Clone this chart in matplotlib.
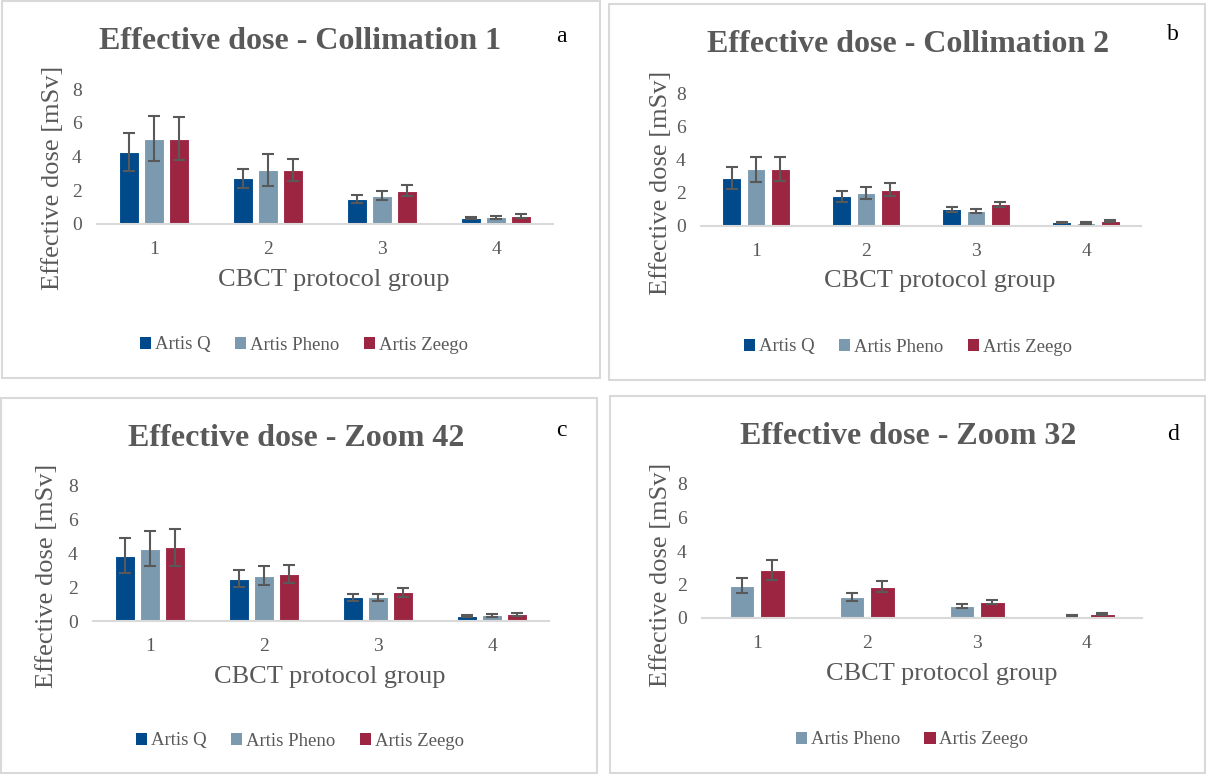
import matplotlib.pyplot as plt
import numpy as np
from matplotlib.patches import Patch, Rectangle

W, H = 1206, 774

groups = ["1", "2", "3", "4"]
series_names = ["Artis Q", "Artis Pheno", "Artis Zeego"]
series_colors = {"Artis Q": "#00498B", "Artis Pheno": "#7B9AAF", "Artis Zeego": "#9C2642"}

# Collimation 1
col1_q = [4.27, 2.71, 1.48, 0.36]
col1_q_err = [1.15, 0.56, 0.24, 0.07]
col1_pheno = [5.06, 3.20, 1.68, 0.40]
col1_pheno_err = [1.33, 0.96, 0.26, 0.08]
col1_zeego = [5.06, 3.20, 1.98, 0.47]
col1_zeego_err = [1.28, 0.63, 0.33, 0.10]

# Collimation 2
col2_q = [2.89, 1.80, 1.00, 0.22]
col2_q_err = [0.65, 0.33, 0.15, 0.05]
col2_pheno = [3.41, 1.98, 0.92, 0.18]
col2_pheno_err = [0.76, 0.35, 0.12, 0.04]
col2_zeego = [3.41, 2.18, 1.30, 0.30]
col2_zeego_err = [0.72, 0.39, 0.16, 0.05]

# Zoom 42
z42_q = [3.88, 2.51, 1.41, 0.30]
z42_q_err = [1.01, 0.50, 0.20, 0.08]
z42_pheno = [4.28, 2.69, 1.41, 0.34]
z42_pheno_err = [1.05, 0.54, 0.20, 0.08]
z42_zeego = [4.36, 2.81, 1.70, 0.40]
z42_zeego_err = [1.08, 0.53, 0.26, 0.10]

# Zoom 32 (no Artis Q)
z32_pheno = [1.94, 1.27, 0.73, 0.14]
z32_pheno_err = [0.44, 0.24, 0.12, 0.04]
z32_zeego = [2.88, 1.87, 0.95, 0.24]
z32_zeego_err = [0.60, 0.32, 0.14, 0.05]

GRAY = "#595959"
SERIF = ["Liberation Serif", "DejaVu Serif"]
plt.rcParams["font.family"] = SERIF

fig = plt.figure(figsize=(W / 100, H / 100), dpi=100)


def fx(x):
    return x / W


def fy(y):
    return 1 - y / H


def add_box(x0, y0, x1, y1):
    fig.patches.append(Rectangle((fx(x0), fy(y1)), fx(x1 - x0), (y1 - y0) / H,
                                 transform=fig.transFigure, fill=False,
                                 edgecolor="#D9D9D9", linewidth=1.5))


def draw_panel(rect, title, letter, series, bar_w, step, title_xy, letter_xy,
               ylabel_xy, xlabel_xy, legend_xy):
    left, top, right, bottom = rect
    ax = fig.add_axes([fx(left), fy(bottom), fx(right - left), (bottom - top) / H])
    x = np.arange(len(groups))
    n = len(series)
    for i, (name, vals, errs) in enumerate(series):
        off = (i - (n - 1) / 2) * step
        ax.bar(x + off, vals, width=bar_w, color=series_colors[name],
               edgecolor="white", linewidth=0.8, zorder=2)
        ax.errorbar(x + off, vals, yerr=errs, fmt="none", ecolor=GRAY,
                    elinewidth=1.5, capsize=4.5, capthick=1.5, zorder=3)
    ax.set_xlim(-0.5, len(groups) - 0.5)
    ax.set_ylim(0, 8)
    ax.set_yticks([0, 2, 4, 6, 8])
    ax.set_xticks(x)
    ax.set_xticklabels(groups)
    for side in ["top", "right", "left"]:
        ax.spines[side].set_visible(False)
    ax.spines["bottom"].set_color("#D9D9D9")
    ax.spines["bottom"].set_linewidth(1.5)
    ax.tick_params(axis="both", length=0, labelsize=14, labelcolor=GRAY)
    ax.tick_params(axis="x", pad=12)
    ax.tick_params(axis="y", pad=11)
    ax.set_facecolor("none")

    fig.text(fx(title_xy[0]), fy(title_xy[1]), title, ha="center", va="baseline",
             fontsize=23, fontweight="bold", color=GRAY)
    fig.text(fx(letter_xy[0]), fy(letter_xy[1]), letter, ha="center", va="baseline",
             fontsize=17, color="black")
    fig.text(fx(ylabel_xy[0]), fy(ylabel_xy[1]), "Effective dose [mSv]", ha="center",
             va="center", rotation=90, fontsize=19, color=GRAY)
    fig.text(fx(xlabel_xy[0]), fy(xlabel_xy[1]), "CBCT protocol group", ha="center",
             va="center", fontsize=19, color=GRAY)

    handles = [Patch(facecolor=series_colors[name], edgecolor="none", label=name)
               for name, _, _ in series]
    fig.legend(handles=handles, loc="center", ncol=len(handles),
               bbox_to_anchor=(fx(legend_xy[0]), fy(legend_xy[1])),
               frameon=False, fontsize=13.5, labelcolor=GRAY,
               handlelength=0.6, handleheight=0.6, handletextpad=0.2,
               columnspacing=1.3)
    return ax


add_box(2, 1, 600, 378)
add_box(609, 4, 1205, 380)
add_box(1, 398, 597, 773)
add_box(610, 396, 1205, 773)

draw_panel((97, 89, 553, 224), "Effective dose - Collimation 1", "a",
           [("Artis Q", col1_q, col1_q_err),
            ("Artis Pheno", col1_pheno, col1_pheno_err),
            ("Artis Zeego", col1_zeego, col1_zeego_err)],
           0.175, 0.222, (300, 49), (561, 42), (53, 178), (334, 280), (304, 345))

draw_panel((701, 93, 1141, 226), "Effective dose - Collimation 2", "b",
           [("Artis Q", col2_q, col2_q_err),
            ("Artis Pheno", col2_pheno, col2_pheno_err),
            ("Artis Zeego", col2_zeego, col2_zeego_err)],
           0.17, 0.22, (908, 52), (1173, 40), (661, 183), (940, 281), (908, 347))

draw_panel((93, 486, 549, 621), "Effective dose - Zoom 42", "c",
           [("Artis Q", z42_q, z42_q_err),
            ("Artis Pheno", z42_pheno, z42_pheno_err),
            ("Artis Zeego", z42_zeego, z42_zeego_err)],
           0.175, 0.222, (296, 446), (561, 436), (47, 576), (330, 677), (300, 741))

draw_panel((702, 484, 1142, 618), "Effective dose - Zoom 32", "d",
           [("Artis Pheno", z32_pheno, z32_pheno_err),
            ("Artis Zeego", z32_zeego, z32_zeego_err)],
           0.22, 0.28, (908, 444), (1173, 440), (661, 575), (942, 674), (912, 740))

fig.savefig("out.png", dpi=100)
